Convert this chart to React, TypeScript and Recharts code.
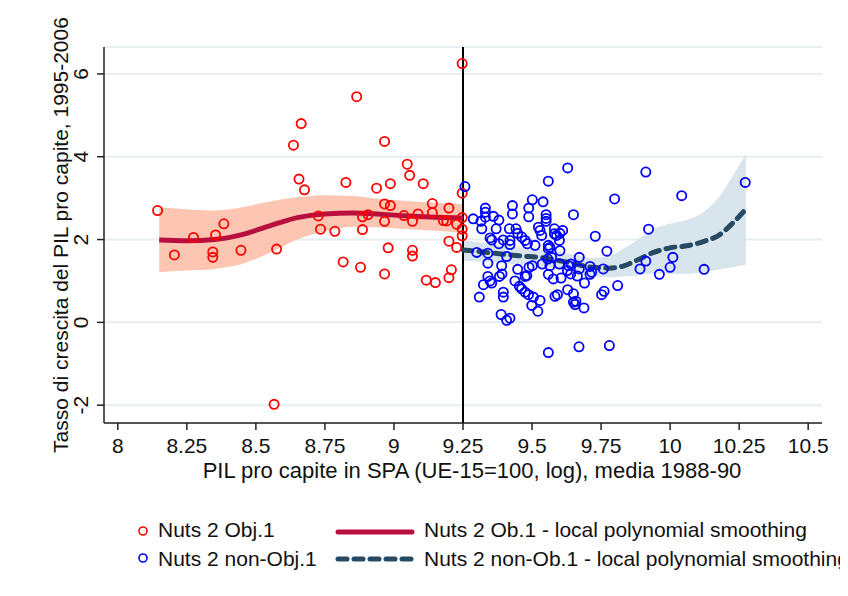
import React from 'react';
import { ComposedChart, Scatter, Line, Area, XAxis, YAxis, CartesianGrid, ReferenceLine } from 'recharts';

const xTicks = [8, 8.25, 8.5, 8.75, 9, 9.25, 9.5, 9.75, 10, 10.25, 10.5];
const yTicks = [-2, 0, 2, 4, 6];

const objPoints: [number, number][] = [
  [9.247, 6.25], [8.865, 5.45], [8.664, 4.8], [8.636, 4.28], [8.966, 4.37], [9.048, 3.82], [9.057, 3.55],
  [8.656, 3.46], [8.676, 3.2], [8.826, 3.38], [8.937, 3.24], [8.987, 3.35], [9.106, 3.35], [9.247, 3.12],
  [8.144, 2.7], [8.384, 2.38], [9.139, 2.87], [8.966, 2.86], [8.987, 2.82], [9.199, 2.76], [9.139, 2.65],
  [9.087, 2.62], [9.036, 2.58], [8.726, 2.57], [8.886, 2.55], [8.906, 2.6], [9.247, 2.53], [8.966, 2.44],
  [9.067, 2.44], [9.179, 2.46], [9.191, 2.45], [9.227, 2.37], [8.734, 2.25], [8.786, 2.2], [8.886, 2.24],
  [9.247, 2.25], [8.274, 2.05], [8.354, 2.11], [9.247, 2.09], [8.205, 1.63], [8.344, 1.7], [8.344, 1.57],
  [8.446, 1.74], [8.575, 1.77], [8.566, -1.98], [9.199, 1.96], [9.227, 1.81], [8.979, 1.8], [9.067, 1.74],
  [9.067, 1.6], [8.816, 1.46], [8.879, 1.33], [8.966, 1.17], [9.208, 1.27], [9.199, 1.08], [9.117, 1.02],
  [9.15, 0.96],
];

const nonObjPoints: [number, number][] = [
  [9.257, 3.28], [9.629, 3.73], [9.559, 3.41], [9.799, 2.98], [9.65, 2.6], [9.429, 2.82], [9.429, 2.62],
  [9.501, 2.96], [9.54, 2.91], [9.488, 2.76], [9.488, 2.55], [9.551, 2.6], [9.551, 2.51], [9.551, 2.44],
  [9.331, 2.76], [9.331, 2.66], [9.331, 2.54], [9.287, 2.5], [9.315, 2.44], [9.36, 2.56], [9.38, 2.47],
  [9.318, 2.26], [9.37, 2.26], [9.418, 2.26], [9.442, 2.26], [9.448, 2.15], [9.463, 2.06], [9.475, 1.98],
  [9.483, 1.9], [9.348, 2.04], [9.354, 1.99], [9.396, 1.99], [9.42, 1.98], [9.38, 1.9], [9.42, 1.88],
  [9.511, 1.86], [9.523, 2.3], [9.529, 2.22], [9.535, 2.1], [9.581, 2.26], [9.581, 2.14], [9.589, 2.1],
  [9.601, 2.15], [9.611, 2.22], [9.599, 1.98], [9.559, 1.86], [9.559, 1.78], [9.565, 1.81], [9.601, 1.73],
  [9.729, 2.08], [9.771, 1.72], [9.3, 1.69], [9.34, 1.67], [9.408, 1.59], [9.34, 1.43], [9.39, 1.37],
  [9.448, 1.28], [9.489, 1.33], [9.501, 1.37], [9.537, 1.41], [9.557, 1.53], [9.571, 1.57], [9.565, 1.37],
  [9.599, 1.41], [9.632, 1.37], [9.641, 1.41], [9.671, 1.57], [9.671, 1.29], [9.71, 1.35], [9.71, 1.16],
  [9.716, 1.21], [9.758, 1.29], [9.628, 1.25], [9.64, 1.17], [9.559, 1.16], [9.577, 1.05], [9.605, 1.07],
  [9.664, 1.12], [9.69, 0.95], [9.382, 1.11], [9.391, 1.17], [9.34, 1.11], [9.348, 1.0], [9.324, 0.91],
  [9.354, 0.95], [9.438, 1.0], [9.475, 1.11], [9.481, 1.13], [9.454, 0.87], [9.462, 0.81], [9.475, 0.73],
  [9.487, 0.67], [9.505, 0.61], [9.529, 0.53], [9.396, 0.73], [9.396, 0.61], [9.309, 0.61], [9.499, 0.41],
  [9.521, 0.27], [9.388, 0.19], [9.408, 0.05], [9.42, 0.1], [9.583, 0.63], [9.592, 0.67], [9.629, 0.79],
  [9.65, 0.69], [9.65, 0.49], [9.656, 0.43], [9.659, 0.51], [9.688, 0.35], [9.752, 0.67], [9.761, 0.75],
  [9.81, 0.89], [9.559, -0.73], [9.67, -0.59], [9.78, -0.56], [9.912, 3.63], [10.042, 3.06], [10.272, 3.38],
  [9.922, 2.25], [10.01, 1.57], [9.912, 1.48], [9.891, 1.29], [10.0, 1.33], [9.961, 1.16], [10.123, 1.28],
];

const obSmoothX = [8.15, 8.25, 8.35, 8.45, 8.55, 8.65, 8.75, 8.85, 8.95, 9.05, 9.15, 9.25];
const obSmoothY = [1.99, 1.97, 2.0, 2.12, 2.33, 2.53, 2.62, 2.64, 2.61, 2.57, 2.54, 2.52];
const obLow = [1.21, 1.25, 1.29, 1.41, 1.68, 2.0, 2.2, 2.31, 2.29, 2.25, 2.21, 2.16];
const obHigh = [2.78, 2.73, 2.7, 2.78, 2.92, 3.02, 3.07, 3.05, 2.98, 2.93, 2.89, 2.86];

const nonSmoothX = [9.25, 9.35, 9.45, 9.55, 9.65, 9.72, 9.78, 9.83, 9.88, 9.94, 10.0, 10.06, 10.12, 10.18, 10.23, 10.275];
const nonSmoothY = [1.75, 1.68, 1.61, 1.55, 1.42, 1.33, 1.31, 1.36, 1.5, 1.69, 1.8, 1.85, 1.95, 2.12, 2.42, 2.74];
const nonLow = [1.49, 1.45, 1.4, 1.34, 1.22, 1.12, 1.09, 1.11, 1.13, 1.18, 1.17, 1.17, 1.21, 1.28, 1.34, 1.4];
const nonHigh = [1.99, 1.9, 1.82, 1.75, 1.64, 1.55, 1.6, 1.78, 1.98, 2.25, 2.38, 2.48, 2.66, 3.05, 3.58, 4.06];

const RED = '#ff0000';
const BLUE = '#0000ff';
const OB_LINE = '#b80f3e';
const OB_BAND = '#fcc6b2';
const NON_LINE = '#264a64';
const NON_BAND = '#d9e5ec';
const FONT = '"Liberation Sans", Arial, sans-serif';

type Row = { x: number; ob?: number; obBand?: [number, number]; non?: number; nonBand?: [number, number] };

const rowMap = new Map<number, Row>();
obSmoothX.forEach((x, i) => {
  const r = rowMap.get(x) || { x };
  r.ob = obSmoothY[i];
  r.obBand = [obLow[i], obHigh[i]];
  rowMap.set(x, r);
});
nonSmoothX.forEach((x, i) => {
  const r = rowMap.get(x) || { x };
  r.non = nonSmoothY[i];
  r.nonBand = [nonLow[i], nonHigh[i]];
  rowMap.set(x, r);
});
const smoothRows = Array.from(rowMap.values()).sort((a, b) => a.x - b.x);

const objData = objPoints.map(([x, y]) => ({ x, y }));
const nonObjData = nonObjPoints.map(([x, y]) => ({ x, y }));

const circleShape = (color: string) => (props: any) => (
  <circle cx={props.cx} cy={props.cy} r={4.6} fill="none" stroke={color} strokeWidth={1.8} />
);

const XTick = (props: any) => (
  <text x={props.x} y={props.y} dy={21} textAnchor="middle" fontSize={21} fontFamily={FONT} fill="#111">
    {String(props.payload.value)}
  </text>
);

const YTick = (props: any) => {
  const x = props.x - 7;
  const y = props.y;
  return (
    <text x={x} y={y} transform={`rotate(-90, ${x}, ${y})`} textAnchor="middle" fontSize={21} fontFamily={FONT} fill="#111">
      {String(props.payload.value)}
    </text>
  );
};

const XLabel = (props: any) => {
  const vb = props.viewBox;
  return (
    <text x={vb.x + vb.width / 2 + 9} y={vb.y + 55} textAnchor="middle" fontSize={22} fontFamily={FONT} fill="#111">
      PIL pro capite in SPA (UE-15=100, log), media 1988-90
    </text>
  );
};

const YLabel = (props: any) => {
  const vb = props.viewBox;
  const x = 60;
  const y = vb.y + vb.height / 2;
  return (
    <text x={x} y={y} transform={`rotate(-90, ${x}, ${y})`} textAnchor="middle" fontSize={21} fontFamily={FONT} fill="#111">
      Tasso di crescita del PIL pro capite, 1995-2006
    </text>
  );
};

const Legend = () => (
  <svg width={880} height={80} style={{ position: 'absolute', left: 0, top: 500, overflow: 'visible' }}>
    <g fontFamily={FONT} fontSize={21} fill="#111">
      <circle cx={135} cy={23} r={4} fill="none" stroke={RED} strokeWidth={1.6} />
      <text x={150} y={29}>Nuts 2 Obj.1</text>
      <line x1={330} y1={24} x2={404} y2={24} stroke={OB_LINE} strokeWidth={5} strokeLinecap="round" />
      <text x={416} y={29}>Nuts 2 Ob.1 - local polynomial smoothing</text>
      <circle cx={135} cy={50} r={4} fill="none" stroke={BLUE} strokeWidth={1.6} />
      <text x={150} y={58}>Nuts 2 non-Obj.1</text>
      <line x1={330} y1={51} x2={404} y2={51} stroke={NON_LINE} strokeWidth={5} strokeLinecap="round" strokeDasharray="9 7" />
      <text x={416} y={58}>Nuts 2 non-Ob.1 - local polynomial smoothing</text>
    </g>
  </svg>
);

export default function App() {
  return (
    <div style={{ position: 'relative', width: 840, height: 580, background: '#fff', overflow: 'visible' }}>
      <ComposedChart width={840} height={480} data={smoothRows} margin={{ top: 39, right: 26, bottom: 5, left: 40 }}>
        <CartesianGrid horizontal={true} vertical={false} stroke="#e5eef1" strokeWidth={2} />
        <XAxis
          type="number"
          dataKey="x"
          domain={[7.95, 10.55]}
          ticks={xTicks}
          allowDataOverflow
          height={60}
          tickSize={7}
          stroke="#222"
          strokeWidth={1.5}
          tick={<XTick />}
          label={<XLabel />}
        />
        <YAxis
          type="number"
          domain={[-2.43, 6.65]}
          ticks={yTicks}
          allowDataOverflow
          width={56}
          tickSize={7}
          stroke="#222"
          strokeWidth={1.5}
          tick={<YTick />}
          label={<YLabel />}
        />
        <Area dataKey="obBand" type="monotone" stroke="none" fill={OB_BAND} fillOpacity={1} isAnimationActive={false} />
        <Area dataKey="nonBand" type="monotone" stroke="none" fill={NON_BAND} fillOpacity={1} isAnimationActive={false} />
        <ReferenceLine x={9.25} stroke="#000" strokeWidth={2} />
        <Scatter data={objData} dataKey="y" shape={circleShape(RED)} isAnimationActive={false} />
        <Scatter data={nonObjData} dataKey="y" shape={circleShape(BLUE)} isAnimationActive={false} />
        <Line dataKey="ob" type="monotone" stroke={OB_LINE} strokeWidth={5} dot={false} activeDot={false} isAnimationActive={false} />
        <Line
          dataKey="non"
          type="monotone"
          stroke={NON_LINE}
          strokeWidth={5}
          strokeDasharray="9 7"
          strokeLinecap="round"
          dot={false}
          activeDot={false}
          isAnimationActive={false}
        />
      </ComposedChart>
      <Legend />
    </div>
  );
}
